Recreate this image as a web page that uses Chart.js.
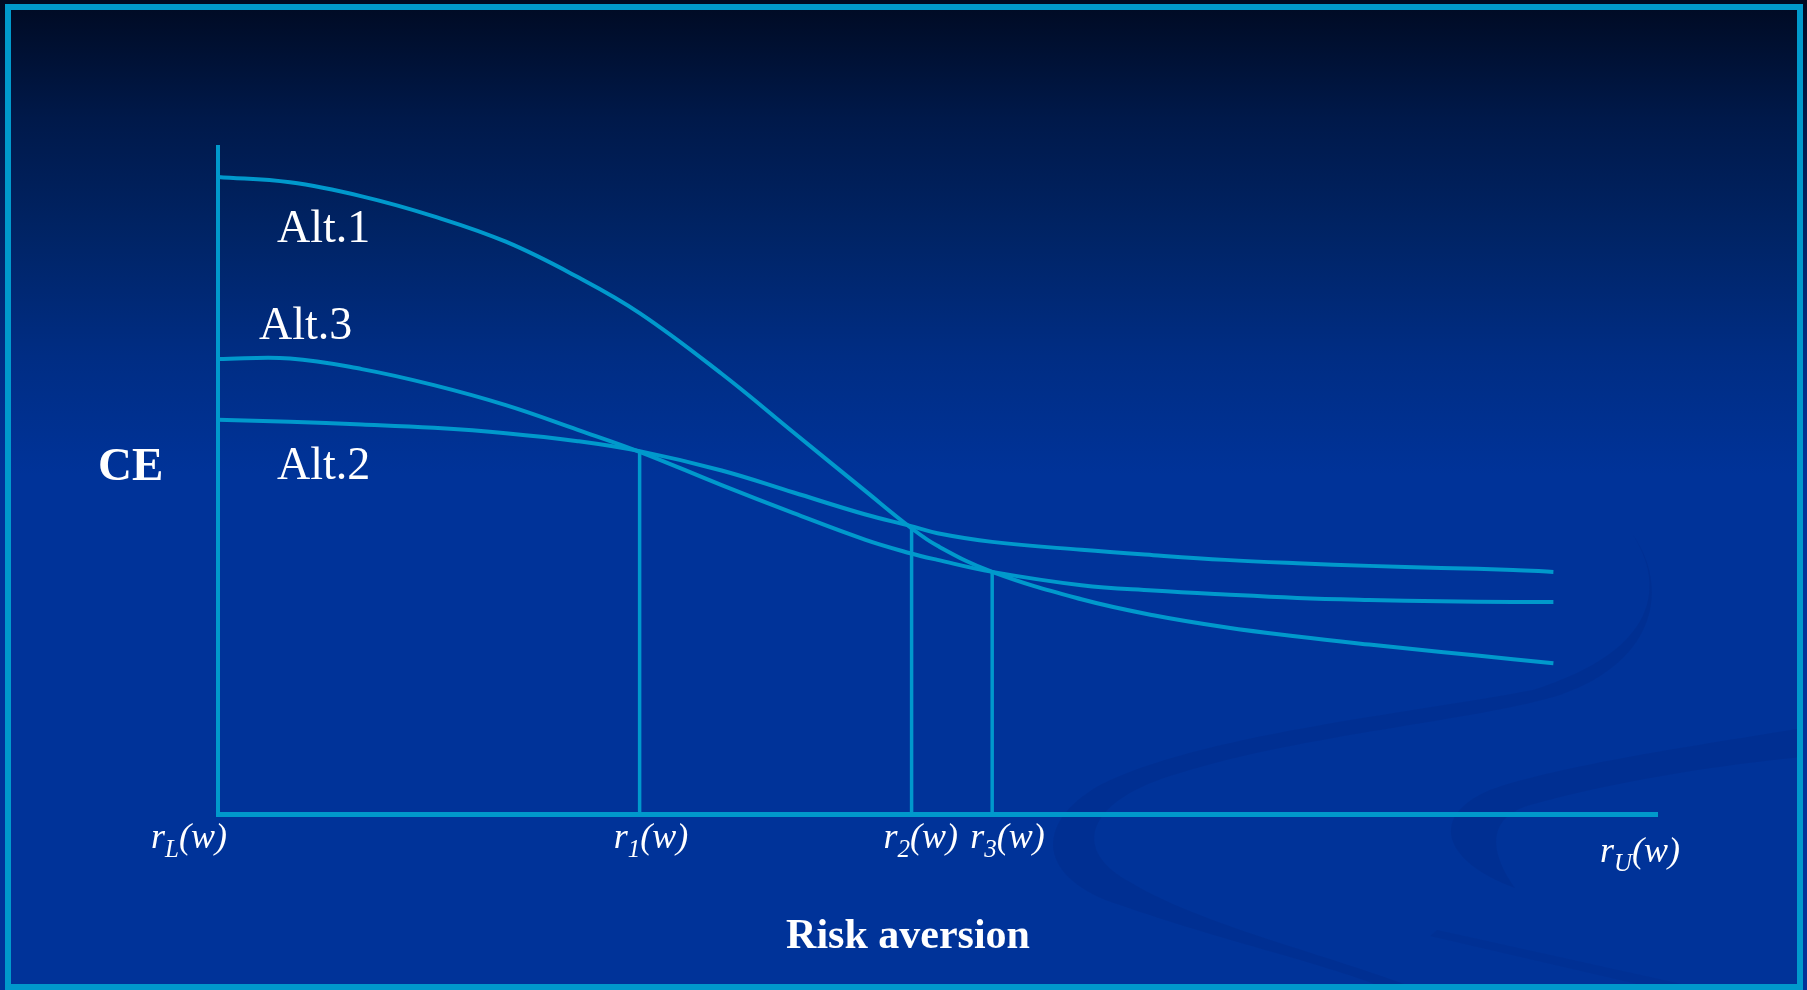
<!DOCTYPE html>
<html>
<head>
<meta charset="utf-8">
<title>CE and risk aversion</title>
<script src="https://cdn.jsdelivr.net/npm/chart.js@4.4.1/dist/chart.umd.min.js"></script>
<style>
  html, body { margin: 0; padding: 0; background: #001030; overflow: hidden; }
  #wrap { width: 1807px; height: 990px; }
</style>
</head>
<body>
<div id="wrap"><canvas id="ceChart"></canvas></div>
<script>
// risk aversion from r_L (0) to r_U (1); curves stop a little before r_U
const riskAversion = [0, 0.05, 0.10, 0.15, 0.20, 0.25, 0.293, 0.35, 0.40, 0.45, 0.481, 0.50, 0.538, 0.60, 0.65, 0.70, 0.75, 0.80, 0.85, 0.90, 0.928];

// certainty equivalents of the three alternatives
const alt1CE = [0.955, 0.947, 0.926, 0.896, 0.858, 0.805, 0.751, 0.660, 0.572, 0.484, 0.430, 0.402, 0.363, 0.322, 0.298, 0.280, 0.266, 0.254, 0.243, 0.232, 0.226];
const alt2CE = [0.591, 0.588, 0.584, 0.579, 0.571, 0.559, 0.544, 0.515, 0.482, 0.449, 0.432, 0.421, 0.408, 0.396, 0.388, 0.381, 0.376, 0.372, 0.369, 0.366, 0.363];
const alt3CE = [0.682, 0.683, 0.667, 0.643, 0.613, 0.576, 0.543, 0.493, 0.451, 0.411, 0.391, 0.381, 0.363, 0.343, 0.335, 0.329, 0.324, 0.321, 0.319, 0.318, 0.318];

// r1, r2, r3: where the ranking of the alternatives switches
const switchPoints = [0.293, 0.482, 0.538];
const switchCE = [0.544, 0.432, 0.363];

// axis marks along risk aversion
const tickValues = [0, 0.293, 0.482, 0.538, 1];
const tickSubscripts = ["L", "1", "2", "3", "U"];

const LINE = "#0099cc";
const SERIF = '"Liberation Serif", "Times New Roman", serif';

const toPoints = (values) => riskAversion.map((x, i) => ({ x: x, y: values[i] }));

const curveDataset = (values) => ({
  data: toPoints(values),
  borderColor: LINE,
  borderWidth: 4,
  pointRadius: 0,
  showLine: true,
  tension: 0.4,
  clip: 6,
});

const dropDataset = (x, ce) => ({
  data: [{ x: x, y: ce }, { x: x, y: 0 }],
  borderColor: LINE,
  borderWidth: 3.5,
  pointRadius: 0,
  showLine: true,
  tension: 0,
  clip: 6,
});

// slide background: dark top fading into blue, ribbons, cyan frame
const backdrop = {
  id: "backdrop",
  beforeDraw: (chart) => {
    const { ctx, width, height } = chart;
    ctx.save();
    const g = ctx.createLinearGradient(0, 0, 0, height);
    g.addColorStop(0, "#000a22");
    g.addColorStop(0.12, "#00194a");
    g.addColorStop(0.24, "#002466");
    g.addColorStop(0.36, "#002d84");
    g.addColorStop(0.48, "#003399");
    g.addColorStop(1, "#003399");
    ctx.fillStyle = g;
    ctx.fillRect(0, 0, width, height);

    ctx.fillStyle = "rgba(0, 30, 110, 0.16)";
    // large ribbon
    ctx.beginPath();
    ctx.moveTo(1633, 535);
    ctx.bezierCurveTo(1665, 585, 1660, 650, 1533, 690);
    ctx.bezierCurveTo(1400, 715, 1200, 735, 1100, 785);
    ctx.bezierCurveTo(1030, 825, 1040, 880, 1120, 905);
    ctx.bezierCurveTo(1220, 940, 1330, 965, 1390, 990);
    ctx.lineTo(1420, 990);
    ctx.bezierCurveTo(1330, 955, 1200, 925, 1130, 882);
    ctx.bezierCurveTo(1070, 850, 1085, 800, 1180, 773);
    ctx.bezierCurveTo(1300, 735, 1480, 720, 1560, 695);
    ctx.bezierCurveTo(1660, 660, 1668, 585, 1633, 535);
    ctx.closePath();
    ctx.fill();
    // smaller ribbon on the right
    ctx.beginPath();
    ctx.moveTo(1803, 728);
    ctx.bezierCurveTo(1700, 745, 1560, 765, 1490, 790);
    ctx.bezierCurveTo(1430, 815, 1440, 860, 1515, 888);
    ctx.bezierCurveTo(1495, 860, 1480, 820, 1530, 805);
    ctx.bezierCurveTo(1620, 780, 1720, 765, 1803, 757);
    ctx.closePath();
    ctx.fill();
    // faint streak near the bottom edge
    ctx.fillStyle = "rgba(0, 30, 110, 0.10)";
    ctx.beginPath();
    ctx.moveTo(1437, 930);
    ctx.lineTo(1695, 987);
    ctx.lineTo(1650, 987);
    ctx.lineTo(1430, 936);
    ctx.closePath();
    ctx.fill();

    ctx.strokeStyle = LINE;
    ctx.lineWidth = 6;
    ctx.strokeRect(8, 7, 1792, 980);
    ctx.restore();
  },
};

// draws r(w) with a subscript
const drawR = (ctx, sub, left, baseline) => {
  ctx.font = "italic 36px " + SERIF;
  ctx.fillText("r", left, baseline);
  let x = left + ctx.measureText("r").width;
  ctx.font = "italic 25px " + SERIF;
  ctx.fillText(sub, x, baseline + 9);
  x += ctx.measureText(sub).width;
  ctx.font = "italic 36px " + SERIF;
  ctx.fillText("(w)", x, baseline);
};

const labels = {
  id: "labels",
  afterDraw: (chart) => {
    const { ctx } = chart;
    const xs = chart.scales.x;
    const xShift = [-67, -26, -28, -22, -57];
    const baselines = [848, 848, 848, 848, 862];
    ctx.save();
    ctx.fillStyle = "#ffffff";
    ctx.textAlign = "left";
    ctx.textBaseline = "alphabetic";

    tickValues.forEach((v, i) => {
      drawR(ctx, tickSubscripts[i], xs.getPixelForValue(v) + xShift[i], baselines[i]);
    });

    ctx.font = "46px " + SERIF;
    ctx.fillText("Alt.1", 277, 242);
    ctx.fillText("Alt.3", 259, 339);
    ctx.fillText("Alt.2", 277, 479);

    ctx.font = "bold 47px " + SERIF;
    ctx.fillText("CE", 98, 480);

    ctx.font = "bold 42px " + SERIF;
    ctx.textAlign = "center";
    ctx.fillText("Risk aversion", 908, 948);
    ctx.restore();
  },
};

const setupChart = () => {
  const datasets = [curveDataset(alt1CE), curveDataset(alt2CE), curveDataset(alt3CE)];
  switchPoints.forEach((x, i) => datasets.push(dropDataset(x, switchCE[i])));

  new Chart(document.getElementById("ceChart"), {
    type: "scatter",
    data: { datasets: datasets },
    options: {
      responsive: true,
      maintainAspectRatio: false,
      animation: false,
      layout: { padding: { left: 218, right: 150, top: 147, bottom: 176 } },
      plugins: {
        legend: { display: false },
        tooltip: { enabled: false },
      },
      scales: {
        x: {
          type: "linear",
          min: 0,
          max: 1,
          ticks: { display: false },
          grid: { display: false, drawTicks: false },
          border: { display: true, color: LINE, width: 5 },
          afterFit: (s) => { s.height = 0; },
        },
        y: {
          min: 0,
          max: 1,
          ticks: { display: false },
          grid: { display: false, drawTicks: false },
          border: { display: true, color: LINE, width: 4 },
          afterFit: (s) => { s.width = 0; },
        },
      },
    },
    plugins: [backdrop, labels],
  });
};

setupChart();
</script>
</body>
</html>
